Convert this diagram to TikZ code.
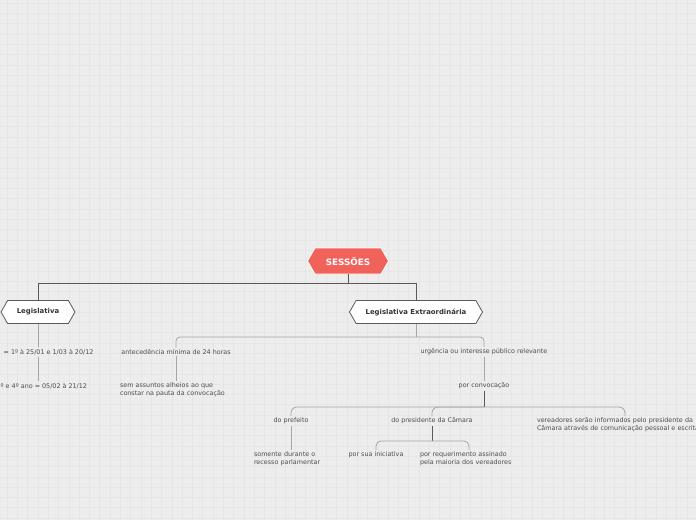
\documentclass[tikz,border=0pt]{standalone}
\usepackage{fontspec}
\setmainfont{DejaVu Sans}
\usetikzlibrary{positioning, shapes.symbols}
\definecolor{bgcol}{HTML}{EDEDED}
\definecolor{gridcol}{HTML}{E6E6E6}
\definecolor{rootred}{HTML}{F1625A}
\definecolor{linedark}{HTML}{5A5A5A}
\definecolor{linegray}{HTML}{A6A6A6}
\definecolor{textdark}{HTML}{333333}
\definecolor{textgray}{HTML}{4D4D4D}

\begin{document}
\begin{tikzpicture}[
    x=1pt, y=-1pt,
    topic/.style={signal, signal to=west and east, signal pointer angle=120,
        draw=linedark, fill=white, line width=0.8pt, text=textdark,
        font=\bfseries\fontsize{6.9}{8}\selectfont, minimum height=23pt, inner xsep=2pt},
    central/.style={topic, fill=rootred, draw=white, text=white, minimum height=26pt,
        font=\bfseries\fontsize{8.8}{10}\selectfont},
    leaf/.style={font=\fontsize{6.4}{8}\selectfont, text=textgray, inner sep=1.5pt, align=left},
    mainline/.style={draw=linedark, line width=1pt},
    subline/.style={draw=linegray, line width=0.8pt}
]
    \useasboundingbox (0,0) rectangle (696,520);
    % fundo quadriculado
    \fill[bgcol] (0,0) rectangle (696,520);
    \foreach \i in {0,...,67} \draw[gridcol, line width=0.5pt] (7+10.3*\i,0) -- (7+10.3*\i,520);
    \foreach \j in {0,...,50} \draw[gridcol, line width=0.5pt] (0,3+10.3*\j) -- (696,3+10.3*\j);

    % topicos principais
    \node[central, minimum width=81pt] (root) at (348,261) {SESSÕES};
    \node[topic, minimum width=74pt] (leg) at (38,312) {Legislativa};
    \node[topic, minimum width=133pt] (ext) at (416,312) {Legislativa Extraordinária};
    \coordinate (j0) at (348,283);
    \draw[mainline] (root.south) -- (j0) -| (leg.north);
    \draw[mainline] (j0) -| (ext.north);

    % Legislativa
    \node[leaf, anchor=west] (leg1) at (2,352) {= 1º à 25/01 e 1/03 à 20/12};
    \node[leaf, anchor=west] (leg2) at (-1,386) {º e 4º ano = 05/02 à 21/12};
    \draw[subline] (leg.south) -- (leg.south |- leg1.north);
    \draw[subline] (leg.south |- leg1.south) -- (leg.south |- leg2.north);

    % Legislativa Extraordinária
    \node[leaf] (ant) at (176,352) {antecedência mínima de 24 horas};
    \node[leaf, text width=112pt] (sem) at (176,390) {sem assuntos alheios ao que\\constar na pauta da convocação};
    \node[leaf] (urg) at (484,352) {urgência ou interesse público relevante};
    \node[leaf] (conv) at (484,386) {por convocação};
    \coordinate (j1) at (416,337);
    \draw[subline] (ext.south) -- (j1);
    \draw[subline, rounded corners=4pt] (j1) -| (ant.north);
    \draw[subline, rounded corners=4pt] (j1) -| (urg.north);
    \draw[subline] (ant.south) -- (sem.north);
    \draw[subline] (urg.south) -- (conv.north);

    % por convocação
    \node[leaf] (pref) at (291,421) {do prefeito};
    \node[leaf] (pres) at (432,421) {do presidente da Câmara};
    \node[leaf, text width=176pt] (ver) at (625,425) {vereadores serão informados pelo presidente da\\Câmara através de comunicação pessoal e escrita};
    \coordinate (j2) at (484,407);
    \draw[mainline, line width=0.8pt] (conv.south) -- (j2);
    \draw[subline, rounded corners=6pt] (j2) -| (pref.north);
    \draw[subline, rounded corners=6pt] (j2) -| (pres.north);
    \draw[subline, rounded corners=6pt] (j2) -| (ver.north);

    \node[leaf, text width=74pt] (som) at (291,459) {somente durante o\\recesso parlamentar};
    \draw[subline] (pref.south) -- (som.north);

    \node[leaf] (ini) at (376,455) {por sua iniciativa};
    \node[leaf, text width=98pt] (req) at (469,459) {por requerimento assinado\\pela maioria dos vereadores};
    \coordinate (j3) at (432,441);
    \draw[mainline, line width=0.8pt] (pres.south) -- (j3);
    \draw[subline, rounded corners=5pt] (j3) -| (ini.north);
    \draw[subline, rounded corners=5pt] (j3) -| (req.north);
\end{tikzpicture}
\end{document}
